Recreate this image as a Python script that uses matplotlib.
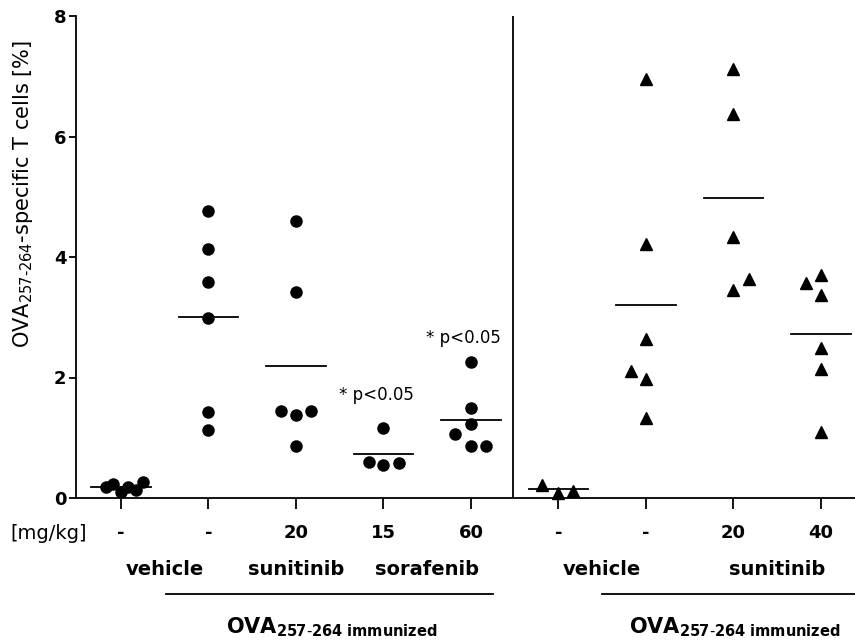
# %% Scatter of OVA-specific T cells per treatment group
import numpy as np
import matplotlib.pyplot as plt

plt.rcParams['font.family'] = ['DejaVu Sans']
plt.rcParams['mathtext.fontset'] = 'custom'
plt.rcParams['mathtext.rm'] = 'DejaVu Sans'
plt.rcParams['mathtext.bf'] = 'DejaVu Sans:bold'

# %% Data
doses = ['-', '-', '20', '15', '60', '-', '-', '20', '40']
circles = [
    [0.18, 0.24, 0.10, 0.19, 0.14, 0.27],
    [4.76, 4.13, 3.59, 2.99, 1.42, 1.13],
    [4.60, 3.42, 1.45, 1.37, 1.45, 0.87],
    [1.17, 0.59, 0.55, 0.58],
    [2.25, 1.50, 1.22, 1.07, 0.86, 0.86],
]
triangles = [
    [0.22, 0.09, 0.12],
    [6.95, 4.22, 2.64, 2.10, 1.97, 1.33],
    [7.12, 6.38, 4.34, 3.63, 3.45],
    [3.57, 3.70, 3.37, 2.49, 2.14, 1.10],
]
# sideways spread of the points, as in the scatter-dot plot
circle_jitter = [
    [-0.175, -0.09, 0, 0.085, 0.17, 0.255],
    [0, 0, 0, 0, 0, 0],
    [0, 0, -0.175, 0, 0.175, 0],
    [0, -0.17, 0, 0.175],
    [0, 0, 0, -0.185, 0, 0.175],
]
triangle_jitter = [
    [-0.185, 0, 0.165],
    [0, 0, 0, -0.175, 0, 0],
    [0, 0, 0, 0.175, 0],
    [-0.175, 0, 0, 0, 0, 0],
]
drug_names = ['vehicle', 'sunitinib', 'sorafenib', 'vehicle', 'sunitinib']
drug_pos = [0.5, 2, 3.5, 5.5, 7.5]
signif = ['* p<0.05', '* p<0.05']
signif_group = [3, 4]
signif_y = [1.71, 2.66]

# %% Plot
fig = plt.figure(figsize=(8.55, 6.42), dpi=100)
ax = fig.add_axes([76 / 855, 144 / 642, 1 - 76 / 855, 482 / 642])

groups = [(np.array(v), np.array(j), 'o') for v, j in zip(circles, circle_jitter)]
groups += [(np.array(v), np.array(j), '^') for v, j in zip(triangles, triangle_jitter)]
for i, (vals, jit, mk) in enumerate(groups):
    ax.plot(i + jit, vals, ls='none', marker=mk, color='black',
            markersize=8 if mk == 'o' else 8.5, clip_on=False, zorder=3)
    ax.plot([i - 0.34, i + 0.34], [vals.mean()] * 2, color='black', lw=1.3,
            clip_on=False, zorder=2)

ax.axvline(4.48, color='black', lw=1.3)
for g, txt, y in zip(signif_group, signif, signif_y):
    ax.text(g - 0.08, y, txt, ha='center', va='center', fontsize=12)

ax.set_xlim(-0.514, 8.39)
ax.set_ylim(0, 8)
ax.set_yticks([0, 2, 4, 6, 8])
ax.set_xticks(range(len(doses)))
ax.set_xticklabels([])
ax.tick_params(axis='y', length=5, width=1.3, labelsize=13, pad=2)
ax.tick_params(axis='x', length=8, width=1.3)
for lab in ax.get_yticklabels():
    lab.set_fontweight('bold')
for s in ['top', 'right']:
    ax.spines[s].set_visible(False)
for s in ['left', 'bottom']:
    ax.spines[s].set_linewidth(1.3)
ax.set_ylabel(r'OVA$_{257\text{-}264}$-specific T cells [%]', fontsize=15)
ax.yaxis.set_label_coords(-0.052, 0.63)

# labels under the axis
tr = ax.get_xaxis_transform()
ax.text(-0.83, -0.073, '[mg/kg]', transform=tr, ha='center', va='center', fontsize=14)
for i, d in enumerate(doses):
    ax.text(i, -0.073, d, transform=tr, ha='center', va='center',
            fontsize=13, fontweight='bold')
for name, x in zip(drug_names, drug_pos):
    ax.text(x, -0.149, name, transform=tr, ha='center', va='center',
            fontsize=14, fontweight='bold')
for x0, x1, xc in [(0.514, 4.25, 2.41), (5.5, 8.39, 7.02)]:
    ax.plot([x0, x1], [-0.199, -0.199], transform=tr, color='black', lw=1.3, clip_on=False)
    ax.text(xc, -0.268, r'OVA$_{\mathbf{257\text{-}264\ immunized}}$', transform=tr,
            ha='center', va='center', fontsize=15, fontweight='bold')

fig.savefig('out.png', dpi=100)
